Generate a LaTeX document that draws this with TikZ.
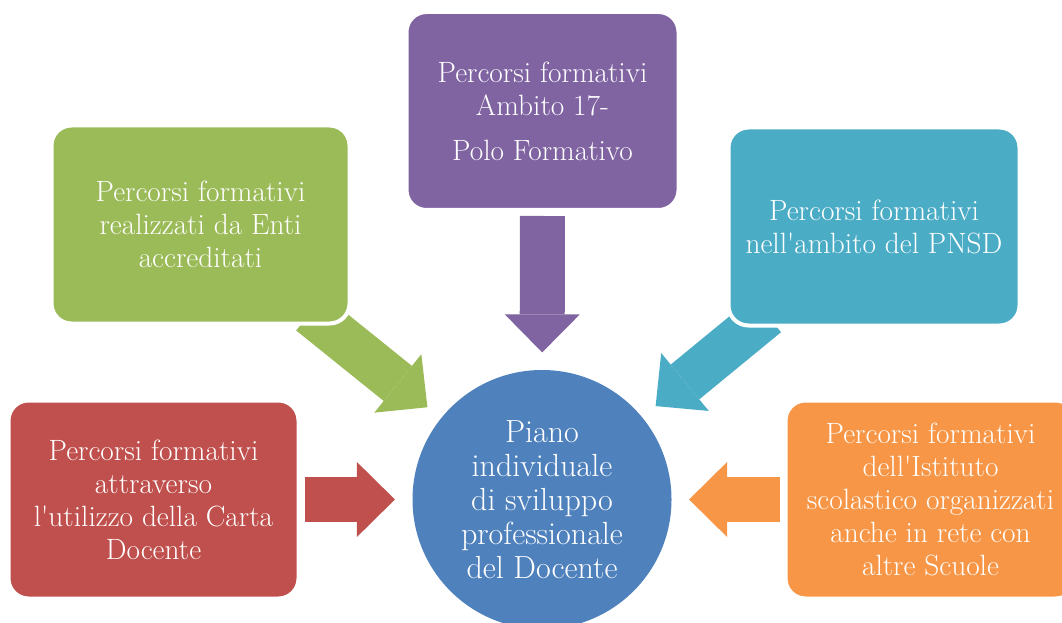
\documentclass[tikz,border=0pt]{standalone}
\usepackage{fontspec}
\usetikzlibrary{arrows.meta,backgrounds}
\definecolor{pianoblue}{HTML}{4F81BD}
\definecolor{polopurple}{HTML}{8064A2}
\definecolor{entigreen}{HTML}{9BBB59}
\definecolor{pnsdteal}{HTML}{4BACC6}
\definecolor{cartared}{HTML}{C0504D}
\definecolor{istitutoorange}{HTML}{F79646}

\begin{document}
\begin{tikzpicture}[x=0.75pt,y=-0.75pt,
    box/.style={draw=white,line width=3pt,rounded corners=15pt,inner sep=0pt,minimum height=148.5pt,align=center,text=white,font=\fontsize{22}{24.75}\selectfont},
    bigarrow/.style={line width=33.75pt,-{Triangle[width=56.25pt,length=28.5pt,line width=0pt]},shorten <=3pt,shorten >=13pt}]
            \useasboundingbox (0,0) rectangle (1062,623);
            \clip (0,0) rectangle (1062,623);
            \node[circle,fill=pianoblue,minimum size=194.25pt,inner sep=0pt,align=center,text=white,font=\fontsize{24}{25.5}\selectfont] (piano) at (542,499.5) {Piano\\individuale\\di sviluppo\\professionale\\del Docente};
            \node[box,fill=polopurple,minimum width=204pt] (polo) at (542.5,111) {Percorsi formativi\\Ambito 17-\\[9pt]Polo Formativo};
            \node[box,fill=entigreen,minimum width=223.5pt] (enti) at (200.5,224.5) {Percorsi formativi\\realizzati da Enti\\accreditati};
            \node[box,fill=pnsdteal,minimum width=218.25pt] (pnsd) at (874,226.5) {Percorsi formativi\\nell\textquotesingle ambito del PNSD};
            \node[box,fill=cartared,minimum width=217.5pt] (carta) at (153.5,499.5) {Percorsi formativi\\attraverso\\l\textquotesingle utilizzo della Carta\\Docente};
            \node[box,fill=istitutoorange,minimum width=217.5pt] (istituto) at (930.5,499.5) {Percorsi formativi\\dell\textquotesingle Istituto\\scolastico organizzati\\anche in rete con\\altre Scuole};
            \begin{scope}[on background layer]
            \draw[bigarrow,polopurple] (polo) -- (piano);
            \draw[bigarrow,entigreen,shorten <=-15pt] (enti) -- (piano);
            \draw[bigarrow,pnsdteal,shorten <=-15pt] (pnsd) -- (piano);
            \draw[bigarrow,cartared] (carta) -- (piano);
            \draw[bigarrow,istitutoorange] (istituto) -- (piano);
            \end{scope}
          \end{tikzpicture}
\end{document}
